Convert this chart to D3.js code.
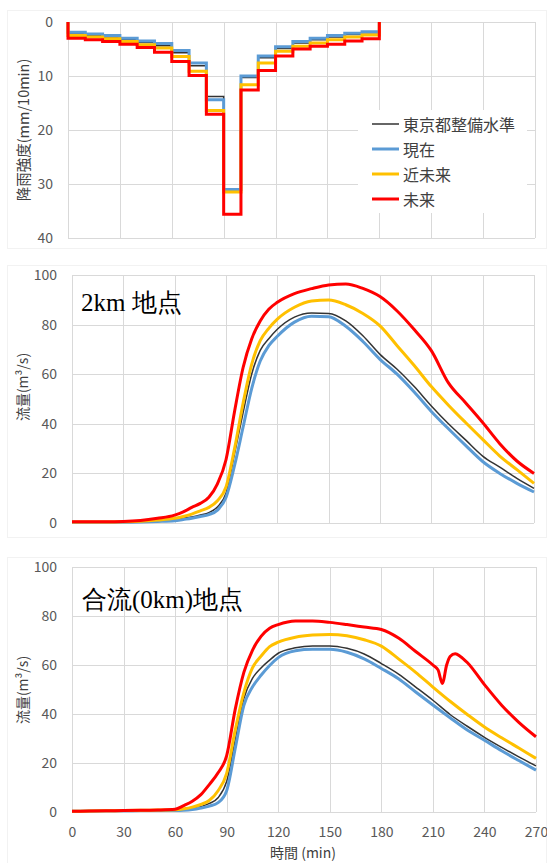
<!DOCTYPE html>
<html>
<head>
<meta charset="utf-8">
<script src="https://cdn.jsdelivr.net/npm/d3@7"></script>
<style>
  html, body { margin: 0; padding: 0; background: #fff; }
  svg { display: block; font-family: "Noto Sans CJK JP", "Noto Sans", sans-serif; }
</style>
</head>
<body>
<script>
// ---- series metadata ----
const seriesNames = ["東京都整備水準", "現在", "近未来", "未来"];
const seriesColors = ["#333333", "#5B9BD5", "#FFC000", "#FF0000"];
const seriesWidths = [1.5, 3, 3, 3];

// ---- rainfall (mm/10min), one value per 10-minute block starting at 0 ----
const rainStart = [0, 10, 20, 30, 40, 50, 60, 70, 80, 90, 100, 110, 120, 130, 140, 150, 160, 170];
const rainStandard = [2.2, 2.5, 2.8, 3.3, 3.8, 4.4, 5.7, 8.1, 13.8, 31.0, 10.3, 6.6, 4.9, 3.9, 3.3, 2.8, 2.3, 2.0];
const rainPresent  = [1.9, 2.2, 2.5, 3.0, 3.5, 4.0, 5.3, 7.6, 14.4, 31.0, 10.0, 6.3, 4.6, 3.6, 3.0, 2.5, 2.1, 1.8];
const rainNear     = [2.5, 2.8, 3.1, 3.6, 4.2, 4.8, 6.4, 9.1, 16.4, 31.5, 11.6, 7.6, 5.4, 4.5, 3.9, 3.3, 2.8, 2.4];
const rainFuture   = [3.0, 3.3, 3.6, 4.1, 4.7, 5.6, 7.3, 9.9, 17.1, 35.6, 12.6, 9.0, 6.3, 5.0, 4.5, 4.1, 3.5, 3.1];
const rainEnd = 180;

// ---- discharge (m3/s) ----
const tFlow = [0, 10, 20, 30, 40, 50, 60, 65, 70, 75, 80, 85, 90, 95, 100, 105, 110, 115, 120,
               130, 140, 150, 160, 170, 180, 190, 200, 210, 220, 230, 240, 250, 260, 270];

// 2km point
const q2kmStandard = [0.4, 0.4, 0.4, 0.4, 0.6, 0.9, 1.3, 1.9, 2.4, 3.2, 4.2, 6.5, 12, 28, 44.5, 60, 69.6, 74.3, 78.1,
                      83, 84.7, 84.5, 81.5, 75.5, 68, 62, 55, 47.2, 40, 33.5, 27, 22.5, 18, 14];
const q2kmPresent  = [0.3, 0.3, 0.3, 0.3, 0.4, 0.6, 0.9, 1.4, 1.9, 2.6, 3.4, 5.2, 10.3, 23.2, 38.7, 54.2, 65.3, 71.5, 75.3,
                      81, 83.4, 83.2, 79.3, 73.2, 66, 60, 52.8, 45, 38, 31.3, 24.8, 20, 16, 12.5];
const q2kmNear     = [0.4, 0.4, 0.4, 0.5, 0.7, 1.2, 1.9, 2.6, 3.6, 4.9, 6.3, 9.0, 14.5, 30, 48.4, 64, 73.5, 78.5, 82.2,
                      87, 89.5, 89.9, 88, 84.5, 79.5, 71.5, 63.5, 55, 47.5, 40.5, 33.7, 27, 21.5, 16];
const q2kmFuture   = [0.5, 0.5, 0.5, 0.6, 1.0, 1.9, 3.2, 4.5, 6.3, 7.9, 10.4, 15.8, 25.5, 45, 62.7, 74.2, 81.5, 86.2, 89,
                      92.5, 94.5, 96, 96.4, 94.6, 91.3, 85.5, 78, 69.5, 56.5, 48.5, 40.5, 32, 25, 20];

// confluence (0km) point
const q0kmStandard = [0.3, 0.4, 0.5, 0.6, 0.7, 0.8, 0.8, 1.0, 1.4, 2.2, 3.5, 5.8, 12.5, 29.4, 46.3, 54.5, 58.8, 62, 64.8,
                      67, 67.8, 67.8, 66.8, 64.5, 60.6, 56.3, 51, 45.6, 39.8, 35, 30.5, 26.4, 22.5, 18.8];
const q0kmPresent  = [0.3, 0.4, 0.5, 0.5, 0.6, 0.6, 0.6, 0.7, 1.0, 1.6, 2.4, 3.8, 8.7, 26, 43.5, 51, 55.8, 59.8, 63,
                      65.8, 66.4, 66.4, 65.2, 62.5, 58.6, 54.4, 49, 43.7, 38.5, 33.5, 29.3, 25, 21, 17.1];
const q0kmNear     = [0.3, 0.4, 0.5, 0.6, 0.7, 0.8, 0.9, 1.3, 2.0, 3.1, 4.8, 8.7, 15.8, 33.5, 48.7, 58.8, 63.6, 67.5, 69.3,
                      71.3, 72.2, 72.5, 71.9, 70.3, 67.7, 62.5, 57, 51, 45.2, 39.8, 34.7, 30.3, 26.1, 21.9];
const tFutureOutlet = [0, 10, 20, 30, 40, 50, 60, 65, 70, 75, 80, 85, 90, 95, 100, 105, 110, 115, 120,
                       130, 140, 150, 160, 170, 180, 190, 200, 210, 213, 215.5, 218, 220, 223, 226, 230,
                       240, 250, 260, 270];
const q0kmFuture   = [0.3, 0.4, 0.5, 0.6, 0.7, 0.8, 1.1, 2.6, 4.4, 7.1, 11.3, 16, 23, 42, 57, 66, 71.7, 75, 76.5,
                      78, 78, 77.4, 76.5, 75.5, 74.5, 71, 65.5, 60, 58, 52.5, 60, 63.5, 64.6, 63.5, 61,
                      52, 43.6, 36.6, 30.7];

// ---- ticks ----
const timeTicks = [0, 30, 60, 90, 120, 150, 180, 210, 240, 270];
const rainTicks = [0, 10, 20, 30, 40];
const flowTicks = [0, 20, 40, 60, 80, 100];

const W = 547, H = 863;
const svg = d3.select("body").append("svg").attr("width", W).attr("height", H);

const gridColor = "#d9d9d9";
const labelColor = "#595959";
const sansFont = "'Noto Sans CJK JP', 'Noto Sans', sans-serif";
const serifFont = "'Liberation Serif', 'DejaVu Serif', serif";

// faint chart-area frames
[[7, 10, 539, 238], [7, 265, 539, 272], [7, 557, 539, 306]].forEach(([x, y, w, h]) => {
  svg.append("rect").attr("x", x + 0.5).attr("y", y + 0.5).attr("width", w).attr("height", h)
    .attr("fill", "none").attr("stroke", "#f2f2f2").attr("stroke-width", 1);
});

function panel(opts) {
  const x = d3.scaleLinear().domain([0, 270]).range([opts.left, opts.right]);
  const y = d3.scaleLinear().domain(opts.yDomain).range(opts.yRange);
  const g = svg.append("g");

  // gridlines
  g.append("g").selectAll("line").data(timeTicks).join("line")
    .attr("x1", d => Math.round(x(d)) + 0.5).attr("x2", d => Math.round(x(d)) + 0.5)
    .attr("y1", Math.min(...opts.yRange)).attr("y2", Math.max(...opts.yRange))
    .attr("stroke", gridColor).attr("stroke-width", 1);
  g.append("g").selectAll("line").data(opts.yTicks).join("line")
    .attr("x1", opts.left).attr("x2", opts.right)
    .attr("y1", d => Math.round(y(d)) + 0.5).attr("y2", d => Math.round(y(d)) + 0.5)
    .attr("stroke", gridColor).attr("stroke-width", 1);

  // y axis labels
  const ya = g.append("g").attr("transform", `translate(${opts.left},0)`)
    .call(d3.axisLeft(y).tickValues(opts.yTicks).tickSize(0).tickPadding(15));
  ya.select(".domain").remove();
  ya.selectAll("text").attr("font-size", 14).attr("fill", labelColor).style("font-family", sansFont);

  // y axis title
  g.append("text")
    .attr("transform", `translate(22,${opts.titleY}) rotate(-90)`)
    .attr("text-anchor", "middle").attr("dominant-baseline", "central")
    .attr("font-size", opts.titleSize).attr("fill", "#404040").style("font-family", sansFont)
    .text(opts.yTitle);

  return { g, x, y };
}

// ---- rainfall hyetograph ----
const rainPanel = panel({ left: 68, right: 535, yDomain: [0, 40], yRange: [22, 238], yTicks: rainTicks,
                          titleY: 130, titleSize: 14.5, yTitle: "降雨強度(mm/10min)" });
const rainSeries = [rainStandard, rainPresent, rainNear, rainFuture];
const stepLine = d3.line().x(d => rainPanel.x(d[0])).y(d => rainPanel.y(d[1])).curve(d3.curveStepAfter);
rainSeries.forEach((vals, i) => {
  const pts = [[0, 0]];
  rainStart.forEach((t, k) => pts.push([t, vals[k]]));
  pts.push([rainEnd, vals[vals.length - 1]]);
  pts.push([rainEnd, 0]);
  rainPanel.g.append("path").attr("d", stepLine(pts)).attr("fill", "none")
    .attr("stroke", seriesColors[i]).attr("stroke-width", seriesWidths[i]);
});

// legend
const lg = rainPanel.g.append("g");
lg.append("rect").attr("x", 358).attr("y", 110).attr("width", 169).attr("height", 103).attr("fill", "#fff");
seriesNames.forEach((name, i) => {
  const cy = 124 + i * 25;
  lg.append("line").attr("x1", 372).attr("x2", 399).attr("y1", cy).attr("y2", cy)
    .attr("stroke", seriesColors[i]).attr("stroke-width", seriesWidths[i]);
  lg.append("text").attr("x", 403).attr("y", cy).attr("dominant-baseline", "central")
    .attr("font-size", 16).attr("fill", "#404040").style("font-family", sansFont).text(name);
});

// ---- flow panels ----
function flowPanel(opts, series, label) {
  const p = panel({ left: opts.left, right: opts.right, yDomain: [0, 100], yRange: opts.yRange,
                    yTicks: flowTicks, titleY: opts.titleY, titleSize: 14, yTitle: "流量(m³/s)" });
  const line = d3.line().x(d => p.x(d[0])).y(d => p.y(d[1])).curve(d3.curveMonotoneX);
  series.forEach((s, i) => {
    const pts = s.t.map((t, k) => [t, s.v[k]]);
    p.g.append("path").attr("d", line(pts)).attr("fill", "none")
      .attr("stroke", seriesColors[i]).attr("stroke-width", seriesWidths[i])
      .attr("stroke-linejoin", "round");
  });
  p.g.append("text").attr("x", opts.labelX).attr("y", opts.labelY)
    .attr("font-size", 25).attr("fill", "#000").style("font-family", serifFont)
    .text(label);
  return p;
}

flowPanel({ left: 72, right: 534, yRange: [523, 275], titleY: 387, labelX: 81, labelY: 311 }, [
  { t: tFlow, v: q2kmStandard }, { t: tFlow, v: q2kmPresent },
  { t: tFlow, v: q2kmNear }, { t: tFlow, v: q2kmFuture }
], "2km 地点");

const outletPanel = flowPanel({ left: 72, right: 536, yRange: [812, 567], titleY: 690, labelX: 82, labelY: 608 }, [
  { t: tFlow, v: q0kmStandard }, { t: tFlow, v: q0kmPresent },
  { t: tFlow, v: q0kmNear }, { t: tFutureOutlet, v: q0kmFuture }
], "合流(0km)地点");

// time axis under the last panel
const xa = outletPanel.g.append("g").attr("transform", "translate(0,812)")
  .call(d3.axisBottom(outletPanel.x).tickValues(timeTicks).tickSize(0).tickPadding(15));
xa.select(".domain").remove();
xa.selectAll("text").attr("font-size", 14).attr("fill", labelColor).style("font-family", sansFont);

svg.append("text").attr("x", 303).attr("y", 852).attr("text-anchor", "middle")
  .attr("dominant-baseline", "central").attr("font-size", 14).attr("fill", "#404040")
  .style("font-family", sansFont)
  .text("時間 (min)");
</script>
</body>
</html>
